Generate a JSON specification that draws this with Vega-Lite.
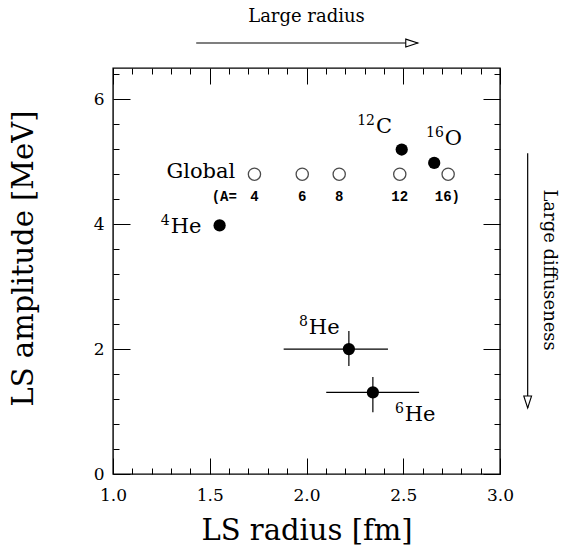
{
  "$schema": "https://vega.github.io/schema/vega-lite/v6.json",
  "width": 387,
  "height": 406,
  "autosize": "none",
  "padding": {"left": 113, "top": 68, "right": 65, "bottom": 76},
  "config": {
    "view": {"stroke": "black", "strokeWidth": 1.4},
    "font": "DejaVu Serif",
    "axis": {"grid": false, "domain": false, "tickColor": "black", "tickWidth": 1, "labelColor": "black", "titleColor": "black", "labelFont": "DejaVu Serif", "titleFont": "DejaVu Serif", "titleFontWeight": "normal", "labelOverlap": false, "labelFlush": false}
  },
  "datasets": {
    "global": [
      {"r": 1.731, "a": 4.8},
      {"r": 1.978, "a": 4.8},
      {"r": 2.169, "a": 4.8},
      {"r": 2.482, "a": 4.8},
      {"r": 2.732, "a": 4.8}
    ],
    "alabels": [
      {"t": "(A=", "r": 1.575, "a": 4.43},
      {"t": "4", "r": 1.731, "a": 4.43},
      {"t": "6", "r": 1.978, "a": 4.43},
      {"t": "8", "r": 2.169, "a": 4.43},
      {"t": "12", "r": 2.482, "a": 4.43},
      {"t": "16)", "r": 2.728, "a": 4.43}
    ],
    "nuclei": [
      {"name": "4He", "r": 1.551, "a": 3.98},
      {"name": "12C", "r": 2.492, "a": 5.195},
      {"name": "16O", "r": 2.66, "a": 4.98},
      {"name": "8He", "r": 2.219, "a": 2.0, "rlo": 1.882, "rhi": 2.421, "alo": 1.728, "ahi": 2.288},
      {"name": "6He", "r": 2.343, "a": 1.307, "rlo": 2.102, "rhi": 2.582, "alo": 0.987, "ahi": 1.552}
    ],
    "nlabels": [
      {"sup": "4", "main": "He", "r": 1.298, "a": 3.86},
      {"sup": "12", "main": "C", "r": 2.359, "a": 5.46},
      {"sup": "16", "main": "O", "r": 2.715, "a": 5.26},
      {"sup": "8", "main": "He", "r": 2.012, "a": 2.24},
      {"sup": "6", "main": "He", "r": 2.508, "a": 0.853}
    ],
    "hrule": [{"r1": 1.43, "r2": 2.575, "a": 6.9}],
    "hhead": [{"r": 2.544, "a": 6.9}],
    "vrule": [{"r": 3.143, "a1": 5.136, "a2": 1.056}],
    "vhead": [{"r": 3.143, "a": 1.152}],
    "notes": [
      {"t": "Large radius", "r": 2.0, "a": 7.23}
    ],
    "vnotes": [
      {"t": "Large diffuseness", "r": 3.251, "a": 3.264}
    ]
  },
  "layer": [
    {
      "data": {"name": "global"},
      "mark": {"type": "point", "shape": "circle", "filled": false, "size": 150, "strokeWidth": 1.3, "color": "black"},
      "encoding": {
        "x": {"field": "r", "type": "quantitative", "scale": {"domain": [1, 3], "nice": false, "zero": false},
          "axis": {"orient": "bottom", "values": [1,1.1,1.2,1.3,1.4,1.5,1.6,1.7,1.8,1.9,2,2.1,2.2,2.3,2.4,2.5,2.6,2.7,2.8,2.9,3],
            "tickSize": {"condition": {"test": "abs(datum.value*2-round(datum.value*2))<0.001", "value": -16}, "value": -6},
            "labelExpr": "abs(datum.value*2-round(datum.value*2))<0.001 ? format(datum.value,'.1f') : ''",
            "labelFontSize": 17, "labelPadding": 29, "title": "LS radius [fm]", "titleFontSize": 29, "titlePadding": 3}},
        "y": {"field": "a", "type": "quantitative", "scale": {"domain": [0, 6.5], "nice": false, "zero": false},
          "axis": {"orient": "left", "values": [0,0.4,0.8,1.2,1.6,2,2.4,2.8,3.2,3.6,4,4.4,4.8,5.2,5.6,6,6.4],
            "tickSize": {"condition": {"test": "abs(datum.value/2-round(datum.value/2))<0.001", "value": -17}, "value": -6},
            "labelExpr": "abs(datum.value/2-round(datum.value/2))<0.001 ? format(datum.value,'d') : ''",
            "labelFontSize": 17, "labelPadding": 26, "title": "LS amplitude [MeV]", "titleFontSize": 29, "titlePadding": 58,
            "titleX": -75, "titleY": 190}}
      }
    },
    {
      "data": {"name": "nuclei"},
      "mark": {"type": "point", "shape": "circle", "filled": true, "size": 150, "opacity": 1, "color": "black"},
      "encoding": {
        "x": {"field": "r", "type": "quantitative",
          "axis": {"orient": "top", "values": [1,1.1,1.2,1.3,1.4,1.5,1.6,1.7,1.8,1.9,2,2.1,2.2,2.3,2.4,2.5,2.6,2.7,2.8,2.9,3],
            "tickSize": {"condition": {"test": "abs(datum.value*2-round(datum.value*2))<0.001", "value": -16}, "value": -6},
            "labels": false, "title": null}},
        "y": {"field": "a", "type": "quantitative",
          "axis": {"orient": "right", "values": [0,0.4,0.8,1.2,1.6,2,2.4,2.8,3.2,3.6,4,4.4,4.8,5.2,5.6,6,6.4],
            "tickSize": {"condition": {"test": "abs(datum.value/2-round(datum.value/2))<0.001", "value": -17}, "value": -6},
            "labels": false, "title": null}}
      }
    },
    {
      "data": {"name": "nuclei"},
      "transform": [{"filter": "isValid(datum.rlo)"}],
      "mark": {"type": "rule", "color": "black", "strokeWidth": 1.2},
      "encoding": {
        "x": {"field": "rlo", "type": "quantitative", "axis": null},
        "x2": {"field": "rhi"},
        "y": {"field": "a", "type": "quantitative", "axis": null}
      }
    },
    {
      "data": {"name": "nuclei"},
      "transform": [{"filter": "isValid(datum.rlo)"}],
      "mark": {"type": "rule", "color": "black", "strokeWidth": 1.2},
      "encoding": {
        "x": {"field": "r", "type": "quantitative", "axis": null},
        "y": {"field": "alo", "type": "quantitative", "axis": null},
        "y2": {"field": "ahi"}
      }
    },
    {
      "data": {"name": "global"},
      "mark": {"type": "text", "text": "Global", "align": "right", "baseline": "middle", "fontSize": 21, "font": "DejaVu Serif", "color": "black"},
      "transform": [{"filter": "datum.r < 1.8"}],
      "encoding": {
        "x": {"datum": 1.632, "type": "quantitative", "axis": null},
        "y": {"datum": 4.83, "type": "quantitative", "axis": null}
      }
    },
    {
      "data": {"name": "alabels"},
      "mark": {"type": "text", "align": "center", "baseline": "middle", "fontSize": 14, "font": "Liberation Mono", "fontWeight": "bold", "color": "black"},
      "encoding": {
        "x": {"field": "r", "type": "quantitative", "axis": null},
        "y": {"field": "a", "type": "quantitative", "axis": null},
        "text": {"field": "t"}
      }
    },
    {
      "data": {"name": "nlabels"},
      "mark": {"type": "text", "align": "left", "baseline": "alphabetic", "fontSize": 21, "font": "DejaVu Serif", "color": "black"},
      "encoding": {
        "x": {"field": "r", "type": "quantitative", "axis": null},
        "y": {"field": "a", "type": "quantitative", "axis": null},
        "text": {"field": "main"}
      }
    },
    {
      "data": {"name": "nlabels"},
      "mark": {"type": "text", "align": "right", "baseline": "alphabetic", "fontSize": 14, "dy": -8, "dx": -1, "font": "DejaVu Serif", "color": "black"},
      "encoding": {
        "x": {"field": "r", "type": "quantitative", "axis": null},
        "y": {"field": "a", "type": "quantitative", "axis": null},
        "text": {"field": "sup"}
      }
    },
    {
      "data": {"name": "hrule"},
      "mark": {"type": "rule", "color": "black", "strokeWidth": 1.2},
      "encoding": {
        "x": {"field": "r1", "type": "quantitative", "axis": null},
        "x2": {"field": "r2"},
        "y": {"field": "a", "type": "quantitative", "axis": null}
      }
    },
    {
      "data": {"name": "vrule"},
      "mark": {"type": "rule", "color": "black", "strokeWidth": 1.2},
      "encoding": {
        "x": {"field": "r", "type": "quantitative", "axis": null},
        "y": {"field": "a1", "type": "quantitative", "axis": null},
        "y2": {"field": "a2"}
      }
    },
    {
      "data": {"name": "hhead"},
      "mark": {"type": "point", "shape": "M-1,-0.65L1,0L-1,0.65Z", "filled": true, "fill": "white", "stroke": "black", "strokeWidth": 1.1, "size": 144, "opacity": 1},
      "encoding": {
        "x": {"field": "r", "type": "quantitative", "axis": null},
        "y": {"field": "a", "type": "quantitative", "axis": null}
      }
    },
    {
      "data": {"name": "vhead"},
      "mark": {"type": "point", "shape": "M-0.65,-1L0,1L0.65,-1Z", "filled": true, "fill": "white", "stroke": "black", "strokeWidth": 1.1, "size": 144, "opacity": 1},
      "encoding": {
        "x": {"field": "r", "type": "quantitative", "axis": null},
        "y": {"field": "a", "type": "quantitative", "axis": null}
      }
    },
    {
      "data": {"name": "notes"},
      "mark": {"type": "text", "align": "center", "baseline": "alphabetic", "fontSize": 18, "font": "DejaVu Serif", "color": "black"},
      "encoding": {
        "x": {"field": "r", "type": "quantitative", "axis": null},
        "y": {"field": "a", "type": "quantitative", "axis": null},
        "text": {"field": "t"}
      }
    },
    {
      "data": {"name": "vnotes"},
      "mark": {"type": "text", "align": "center", "baseline": "middle", "angle": 90, "fontSize": 18, "font": "DejaVu Serif", "color": "black"},
      "encoding": {
        "x": {"field": "r", "type": "quantitative", "axis": null},
        "y": {"field": "a", "type": "quantitative", "axis": null},
        "text": {"field": "t"}
      }
    }
  ],
  "resolve": {"axis": {"x": "independent", "y": "independent"}}
}
